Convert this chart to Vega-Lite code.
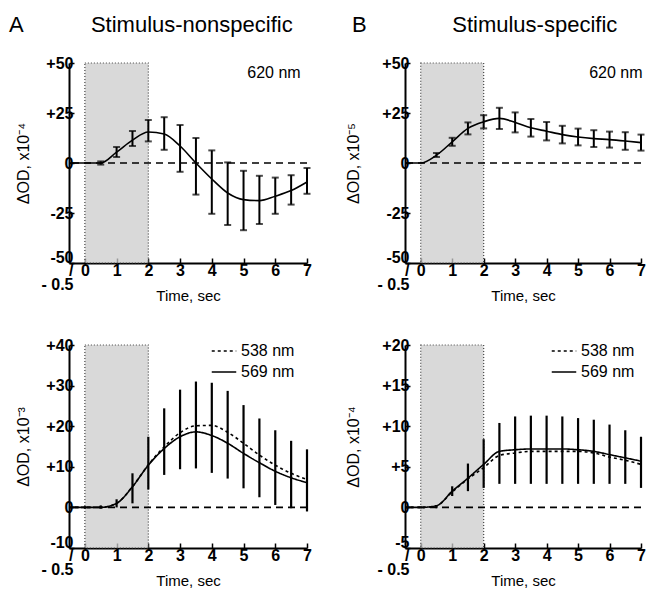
{
  "$schema": "https://vega.github.io/schema/vega-lite/v6.json",
  "background": "white",
  "padding": {"left": 8, "top": 14, "right": 0, "bottom": 0},
  "config": {
    "font": "Liberation Sans",
    "view": {"stroke": null},
    "axis": {
      "grid": false,
      "domainColor": "black",
      "domainWidth": 2,
      "tickColor": "black",
      "tickWidth": 1.5,
      "tickSize": -5,
      "labelFont": "Liberation Sans",
      "labelFontSize": 16,
      "labelFontWeight": "bold",
      "labelColor": "black",
      "titleFont": "Liberation Sans",
      "titleFontSize": 16,
      "titleFontWeight": "normal",
      "titleColor": "black",
      "labelOverlap": false,
      "labelFlush": false
    },
    "axisX": {
      "labelPadding": 4,
      "labelBaseline": "top",
      "titleFontSize": 15,
      "titleY": 25,
      "titleBaseline": "top"
    },
    "axisY": {
      "labelPadding": 1,
      "labelLineHeight": 13.5,
      "titlePadding": 9
    },
    "title": {"fontSize": 22, "fontWeight": "normal", "color": "black", "anchor": "start", "frame": "bounds", "font": "Liberation Sans"},
    "legend": {
      "orient": "none",
      "padding": 0,
      "labelFontSize": 16,
      "labelColor": "black",
      "labelFont": "Liberation Sans",
      "symbolType": "stroke",
      "symbolSize": 600,
      "symbolStrokeColor": "black",
      "symbolStrokeWidth": 1.5,
      "rowPadding": 0,
      "title": null
    }
  },
  "datasets": {
    "curveA": [
      {"t": -0.5, "v": 0}, {"t": 0, "v": 0}, {"t": 0.5, "v": 0}, {"t": 1, "v": 5.4}, {"t": 1.5, "v": 11.4},
      {"t": 2, "v": 15.5}, {"t": 2.5, "v": 14.5}, {"t": 3, "v": 8.5}, {"t": 3.5, "v": 0}, {"t": 4, "v": -8},
      {"t": 4.5, "v": -15}, {"t": 5, "v": -18.3}, {"t": 5.5, "v": -18.8}, {"t": 6, "v": -16.6}, {"t": 6.5, "v": -13.8}, {"t": 7, "v": -9.5}
    ],
    "errA": [
      {"t": 0.5, "lo": -0.8, "hi": 0.8}, {"t": 1, "lo": 3, "hi": 8}, {"t": 1.5, "lo": 8.5, "hi": 16},
      {"t": 2, "lo": 10.8, "hi": 21.5}, {"t": 2.5, "lo": 6.6, "hi": 22.9}, {"t": 3, "lo": -4.4, "hi": 19},
      {"t": 3.5, "lo": -15.8, "hi": 12.5}, {"t": 4, "lo": -25.4, "hi": 6.3}, {"t": 4.5, "lo": -31, "hi": 0.3},
      {"t": 5, "lo": -33.6, "hi": -3.9}, {"t": 5.5, "lo": -30.5, "hi": -6.4}, {"t": 6, "lo": -25.4, "hi": -7.3},
      {"t": 6.5, "lo": -20.8, "hi": -6.1}, {"t": 7, "lo": -15.4, "hi": -2.5}
    ],
    "curveB": [
      {"t": -0.5, "v": 0}, {"t": 0, "v": 0}, {"t": 0.5, "v": 3.9}, {"t": 1, "v": 10.6}, {"t": 1.5, "v": 17.3},
      {"t": 2, "v": 20.6}, {"t": 2.5, "v": 22.3}, {"t": 3, "v": 20.3}, {"t": 3.5, "v": 17.6}, {"t": 4, "v": 15.9},
      {"t": 4.5, "v": 14.2}, {"t": 5, "v": 13}, {"t": 5.5, "v": 12.2}, {"t": 6, "v": 11.7}, {"t": 6.5, "v": 11}, {"t": 7, "v": 10.2}
    ],
    "errB": [
      {"t": 0.5, "lo": 3, "hi": 5}, {"t": 1, "lo": 8.6, "hi": 12.6}, {"t": 1.5, "lo": 14.3, "hi": 20.3},
      {"t": 2, "lo": 17.3, "hi": 23.9}, {"t": 2.5, "lo": 17, "hi": 27.6}, {"t": 3, "lo": 15.3, "hi": 25.3},
      {"t": 3.5, "lo": 13.2, "hi": 22}, {"t": 4, "lo": 11.3, "hi": 20.5}, {"t": 4.5, "lo": 9.8, "hi": 18.6},
      {"t": 5, "lo": 8.8, "hi": 17.2}, {"t": 5.5, "lo": 8, "hi": 16.4}, {"t": 6, "lo": 7.7, "hi": 15.7},
      {"t": 6.5, "lo": 6.6, "hi": 15.4}, {"t": 7, "lo": 6.2, "hi": 14.2}
    ],
    "curveC": [
      {"series": "569 nm", "t": -0.5, "v": 0}, {"series": "569 nm", "t": 0, "v": 0}, {"series": "569 nm", "t": 0.5, "v": 0},
      {"series": "569 nm", "t": 1, "v": 1}, {"series": "569 nm", "t": 1.5, "v": 5.1}, {"series": "569 nm", "t": 2, "v": 10.4},
      {"series": "569 nm", "t": 2.5, "v": 14.5}, {"series": "569 nm", "t": 3, "v": 17.4}, {"series": "569 nm", "t": 3.5, "v": 18.6},
      {"series": "569 nm", "t": 4, "v": 17.7}, {"series": "569 nm", "t": 4.5, "v": 15.8}, {"series": "569 nm", "t": 5, "v": 13.3},
      {"series": "569 nm", "t": 5.5, "v": 11}, {"series": "569 nm", "t": 6, "v": 8.9}, {"series": "569 nm", "t": 6.5, "v": 7.3},
      {"series": "569 nm", "t": 7, "v": 6.1},
      {"series": "538 nm", "t": -0.5, "v": 0}, {"series": "538 nm", "t": 0, "v": 0}, {"series": "538 nm", "t": 0.5, "v": 0},
      {"series": "538 nm", "t": 1, "v": 1}, {"series": "538 nm", "t": 1.5, "v": 5.1}, {"series": "538 nm", "t": 2, "v": 10.5},
      {"series": "538 nm", "t": 2.5, "v": 14.9}, {"series": "538 nm", "t": 3, "v": 18.4}, {"series": "538 nm", "t": 3.5, "v": 20.1},
      {"series": "538 nm", "t": 4, "v": 20.2}, {"series": "538 nm", "t": 4.5, "v": 18.5}, {"series": "538 nm", "t": 5, "v": 15.8},
      {"series": "538 nm", "t": 5.5, "v": 12.9}, {"series": "538 nm", "t": 6, "v": 10.4}, {"series": "538 nm", "t": 6.5, "v": 8.4},
      {"series": "538 nm", "t": 7, "v": 6.9}
    ],
    "errC": [
      {"t": 0, "lo": -0.3, "hi": 0.3}, {"t": 0.5, "lo": -0.3, "hi": 0.5}, {"t": 1, "lo": 0, "hi": 2},
      {"t": 1.5, "lo": 1, "hi": 8.4}, {"t": 2, "lo": 4.4, "hi": 17.4}, {"t": 2.5, "lo": 8, "hi": 24.4},
      {"t": 3, "lo": 9.4, "hi": 29}, {"t": 3.5, "lo": 9.6, "hi": 31}, {"t": 4, "lo": 8.5, "hi": 30.7},
      {"t": 4.5, "lo": 7.1, "hi": 28.7}, {"t": 5, "lo": 4.7, "hi": 25.2}, {"t": 5.5, "lo": 2.5, "hi": 21.9},
      {"t": 6, "lo": 0.6, "hi": 19}, {"t": 6.5, "lo": -0.2, "hi": 16.4}, {"t": 7, "lo": -1, "hi": 14.3}
    ],
    "curveD": [
      {"series": "569 nm", "t": -0.5, "v": 0}, {"series": "569 nm", "t": 0, "v": 0}, {"series": "569 nm", "t": 0.5, "v": 0.2},
      {"series": "569 nm", "t": 1, "v": 2}, {"series": "569 nm", "t": 1.5, "v": 3.6}, {"series": "569 nm", "t": 2, "v": 5.3},
      {"series": "569 nm", "t": 2.5, "v": 6.9}, {"series": "569 nm", "t": 3, "v": 7.1}, {"series": "569 nm", "t": 3.5, "v": 7.2},
      {"series": "569 nm", "t": 4, "v": 7.2}, {"series": "569 nm", "t": 4.5, "v": 7.2}, {"series": "569 nm", "t": 5, "v": 7.1},
      {"series": "569 nm", "t": 5.5, "v": 6.9}, {"series": "569 nm", "t": 6, "v": 6.5}, {"series": "569 nm", "t": 6.5, "v": 6.1},
      {"series": "569 nm", "t": 7, "v": 5.7},
      {"series": "538 nm", "t": -0.5, "v": 0}, {"series": "538 nm", "t": 0, "v": 0}, {"series": "538 nm", "t": 0.5, "v": 0.2},
      {"series": "538 nm", "t": 1, "v": 1.9}, {"series": "538 nm", "t": 1.5, "v": 3.5}, {"series": "538 nm", "t": 2, "v": 4.9},
      {"series": "538 nm", "t": 2.5, "v": 6.4}, {"series": "538 nm", "t": 3, "v": 6.7}, {"series": "538 nm", "t": 3.5, "v": 6.9},
      {"series": "538 nm", "t": 4, "v": 6.9}, {"series": "538 nm", "t": 4.5, "v": 6.9}, {"series": "538 nm", "t": 5, "v": 6.9},
      {"series": "538 nm", "t": 5.5, "v": 6.7}, {"series": "538 nm", "t": 6, "v": 6.2}, {"series": "538 nm", "t": 6.5, "v": 5.8},
      {"series": "538 nm", "t": 7, "v": 5.3}
    ],
    "errD": [
      {"t": 0, "lo": -0.1, "hi": 0.1}, {"t": 0.5, "lo": -0.1, "hi": 0.3}, {"t": 1, "lo": 1.4, "hi": 2.6},
      {"t": 1.5, "lo": 2, "hi": 5.4}, {"t": 2, "lo": 2.4, "hi": 8.4}, {"t": 2.5, "lo": 2.9, "hi": 10.4},
      {"t": 3, "lo": 2.9, "hi": 11.2}, {"t": 3.5, "lo": 2.9, "hi": 11.3}, {"t": 4, "lo": 2.9, "hi": 11.3},
      {"t": 4.5, "lo": 2.9, "hi": 11.2}, {"t": 5, "lo": 2.9, "hi": 11}, {"t": 5.5, "lo": 2.9, "hi": 10.8},
      {"t": 6, "lo": 2.9, "hi": 10.2}, {"t": 6.5, "lo": 2.9, "hi": 9.5}, {"t": 7, "lo": 2.4, "hi": 8.7}
    ]
  },
  "resolve": {"scale": {"strokeDash": "independent"}, "legend": {"strokeDash": "independent"}},
  "columns": 2,
  "spacing": {"row": 31, "column": 33},
  "concat": [
    {
      "width": 238, "height": 200,
      "title": {"text": "A\u00a0\u00a0\u00a0\u00a0\u00a0\u00a0\u00a0\u00a0\u00a0\u00a0\u00a0Stimulus-nonspecific", "dx": -7, "offset": 18},
      "layer": [
        {"data": {"values": [{}]}, "mark": {"type": "rect", "fill": "#cccccc", "fillOpacity": 0.75, "stroke": "#444444", "strokeDash": [1, 2], "strokeWidth": 1.2},
         "encoding": {"x": {"datum": 0, "type": "quantitative", "scale": {"domain": [-0.5, 7], "nice": false, "zero": false}}, "x2": {"datum": 2}}},
        {"data": {"values": [{}]}, "mark": {"type": "rule", "strokeDash": [7, 5], "strokeWidth": 1.6, "color": "black"},
         "encoding": {"y": {"datum": 0, "type": "quantitative", "scale": {"domain": [-50, 50], "nice": false}}}},
        {"data": {"name": "curveA"}, "mark": {"type": "line", "interpolate": "monotone", "color": "black", "strokeWidth": 1.6},
         "encoding": {
           "x": {"field": "t", "type": "quantitative", "title": "Time, sec", "scale": {"domain": [-0.5, 7], "nice": false, "zero": false}},
           "y": {"field": "v", "type": "quantitative", "title": "ΔOD, x10⁻⁴", "scale": {"domain": [-50, 50], "nice": false},
                 "axis": {"values": [-50, -25, 0, 25, 50], "labelOverlap": false,
                          "labelExpr": "datum.value == -50 ? ['-50\u00a0', '/', '', '- 0.5'] : (datum.value > 0 ? '+' + datum.value : '' + datum.value) + '\u00a0'",
                          "labelBaseline": {"condition": {"test": "datum.value == -50", "value": "top"}, "value": "middle"},
                          "labelOffset": {"condition": {"test": "datum.value == -50", "value": -14}, "value": 0}}}
         }},
        {"data": {"name": "errA"}, "mark": {"type": "errorbar", "ticks": {"size": 7, "color": "black"}, "thickness": 2, "color": "black"},
         "encoding": {
           "x": {"field": "t", "type": "quantitative", "title": "Time, sec"},
           "y": {"field": "lo", "type": "quantitative", "title": "ΔOD, x10⁻⁴"},
           "y2": {"field": "hi"}
         }},
        {"data": {"values": [{}]}, "mark": {"type": "text", "align": "right", "baseline": "middle", "fontSize": 16, "color": "black"},
         "encoding": {"x": {"datum": 6.8, "type": "quantitative"}, "y": {"datum": 45, "type": "quantitative"}, "text": {"value": "620 nm"}}}
      ]
    },
    {
      "width": 236, "height": 200,
      "title": {"text": "B\u00a0\u00a0\u00a0\u00a0\u00a0\u00a0\u00a0\u00a0\u00a0\u00a0\u00a0\u00a0\u00a0\u00a0Stimulus-specific", "dx": 6, "offset": 18},
      "layer": [
        {"data": {"values": [{}]}, "mark": {"type": "rect", "fill": "#cccccc", "fillOpacity": 0.75, "stroke": "#444444", "strokeDash": [1, 2], "strokeWidth": 1.2},
         "encoding": {"x": {"datum": 0, "type": "quantitative", "scale": {"domain": [-0.5, 7], "nice": false, "zero": false}}, "x2": {"datum": 2}}},
        {"data": {"values": [{}]}, "mark": {"type": "rule", "strokeDash": [7, 5], "strokeWidth": 1.6, "color": "black"},
         "encoding": {"y": {"datum": 0, "type": "quantitative", "scale": {"domain": [-50, 50], "nice": false}}}},
        {"data": {"name": "curveB"}, "mark": {"type": "line", "interpolate": "monotone", "color": "black", "strokeWidth": 1.6},
         "encoding": {
           "x": {"field": "t", "type": "quantitative", "title": "Time, sec", "scale": {"domain": [-0.5, 7], "nice": false, "zero": false}},
           "y": {"field": "v", "type": "quantitative", "title": "ΔOD, x10⁻⁵", "scale": {"domain": [-50, 50], "nice": false},
                 "axis": {"values": [-50, -25, 0, 25, 50], "labelOverlap": false, "titlePadding": 15,
                          "labelExpr": "datum.value == -50 ? ['-50\u00a0', '/', '', '- 0.5'] : (datum.value > 0 ? '+' + datum.value : '' + datum.value) + '\u00a0'",
                          "labelBaseline": {"condition": {"test": "datum.value == -50", "value": "top"}, "value": "middle"},
                          "labelOffset": {"condition": {"test": "datum.value == -50", "value": -14}, "value": 0}}}
         }},
        {"data": {"name": "errB"}, "mark": {"type": "errorbar", "ticks": {"size": 7, "color": "black"}, "thickness": 2, "color": "black"},
         "encoding": {
           "x": {"field": "t", "type": "quantitative", "title": "Time, sec"},
           "y": {"field": "lo", "type": "quantitative", "title": "ΔOD, x10⁻⁵"},
           "y2": {"field": "hi"}
         }},
        {"data": {"values": [{}]}, "mark": {"type": "text", "align": "right", "baseline": "middle", "fontSize": 16, "color": "black"},
         "encoding": {"x": {"datum": 7.05, "type": "quantitative"}, "y": {"datum": 45, "type": "quantitative"}, "text": {"value": "620 nm"}}}
      ]
    },
    {
      "width": 238, "height": 203,
      "layer": [
        {"data": {"values": [{}]}, "mark": {"type": "rect", "fill": "#cccccc", "fillOpacity": 0.75, "stroke": "#444444", "strokeDash": [1, 2], "strokeWidth": 1.2},
         "encoding": {"x": {"datum": 0, "type": "quantitative", "scale": {"domain": [-0.5, 7], "nice": false, "zero": false}}, "x2": {"datum": 2}}},
        {"data": {"values": [{}]}, "mark": {"type": "rule", "strokeDash": [7, 5], "strokeWidth": 1.6, "color": "black"},
         "encoding": {"y": {"datum": 0, "type": "quantitative", "scale": {"domain": [-10, 40], "nice": false}}}},
        {"data": {"name": "errC"}, "mark": {"type": "errorbar", "ticks": false, "thickness": 2.2, "color": "black"},
         "encoding": {
           "x": {"field": "t", "type": "quantitative", "title": "Time, sec"},
           "y": {"field": "lo", "type": "quantitative", "title": "ΔOD, x10⁻³"},
           "y2": {"field": "hi"}
         }},
        {"data": {"name": "curveC"}, "mark": {"type": "line", "interpolate": "monotone", "color": "black", "strokeWidth": 1.6},
         "encoding": {
           "x": {"field": "t", "type": "quantitative", "title": "Time, sec", "scale": {"domain": [-0.5, 7], "nice": false, "zero": false}},
           "y": {"field": "v", "type": "quantitative", "title": "ΔOD, x10⁻³", "scale": {"domain": [-10, 40], "nice": false},
                 "axis": {"values": [-10, 0, 10, 20, 30, 40], "labelOverlap": false,
                          "labelExpr": "datum.value == -10 ? ['-10\u00a0', '/', '', '- 0.5'] : (datum.value > 0 ? '+' + datum.value : '' + datum.value) + '\u00a0'",
                          "labelBaseline": {"condition": {"test": "datum.value == -10", "value": "top"}, "value": "middle"},
                          "labelOffset": {"condition": {"test": "datum.value == -10", "value": -14}, "value": 0}}},
           "strokeDash": {"field": "series", "type": "nominal", "scale": {"domain": ["538 nm", "569 nm"], "range": [[3, 3], [1, 0]]}, "legend": {"orient": "none", "legendX": 142, "legendY": -7}}
         }}
      ]
    },
    {
      "width": 236, "height": 203,
      "layer": [
        {"data": {"values": [{}]}, "mark": {"type": "rect", "fill": "#cccccc", "fillOpacity": 0.75, "stroke": "#444444", "strokeDash": [1, 2], "strokeWidth": 1.2},
         "encoding": {"x": {"datum": 0, "type": "quantitative", "scale": {"domain": [-0.5, 7], "nice": false, "zero": false}}, "x2": {"datum": 2}}},
        {"data": {"values": [{}]}, "mark": {"type": "rule", "strokeDash": [7, 5], "strokeWidth": 1.6, "color": "black"},
         "encoding": {"y": {"datum": 0, "type": "quantitative", "scale": {"domain": [-5, 20], "nice": false}}}},
        {"data": {"name": "errD"}, "mark": {"type": "errorbar", "ticks": false, "thickness": 2.2, "color": "black"},
         "encoding": {
           "x": {"field": "t", "type": "quantitative", "title": "Time, sec"},
           "y": {"field": "lo", "type": "quantitative", "title": "ΔOD, x10⁻⁴"},
           "y2": {"field": "hi"}
         }},
        {"data": {"name": "curveD"}, "mark": {"type": "line", "interpolate": "monotone", "color": "black", "strokeWidth": 1.6},
         "encoding": {
           "x": {"field": "t", "type": "quantitative", "title": "Time, sec", "scale": {"domain": [-0.5, 7], "nice": false, "zero": false}},
           "y": {"field": "v", "type": "quantitative", "title": "ΔOD, x10⁻⁴", "scale": {"domain": [-5, 20], "nice": false},
                 "axis": {"values": [-5, 0, 5, 10, 15, 20], "labelOverlap": false, "titlePadding": 15,
                          "labelExpr": "datum.value == -5 ? ['-5\u00a0', '/', '', '- 0.5'] : (datum.value > 0 ? '+' + datum.value : '' + datum.value) + '\u00a0'",
                          "labelBaseline": {"condition": {"test": "datum.value == -5", "value": "top"}, "value": "middle"},
                          "labelOffset": {"condition": {"test": "datum.value == -5", "value": -14}, "value": 0}}},
           "strokeDash": {"field": "series", "type": "nominal", "scale": {"domain": ["538 nm", "569 nm"], "range": [[3, 3], [1, 0]]}, "legend": {"orient": "none", "legendX": 146, "legendY": -7}}
         }}
      ]
    }
  ]
}
